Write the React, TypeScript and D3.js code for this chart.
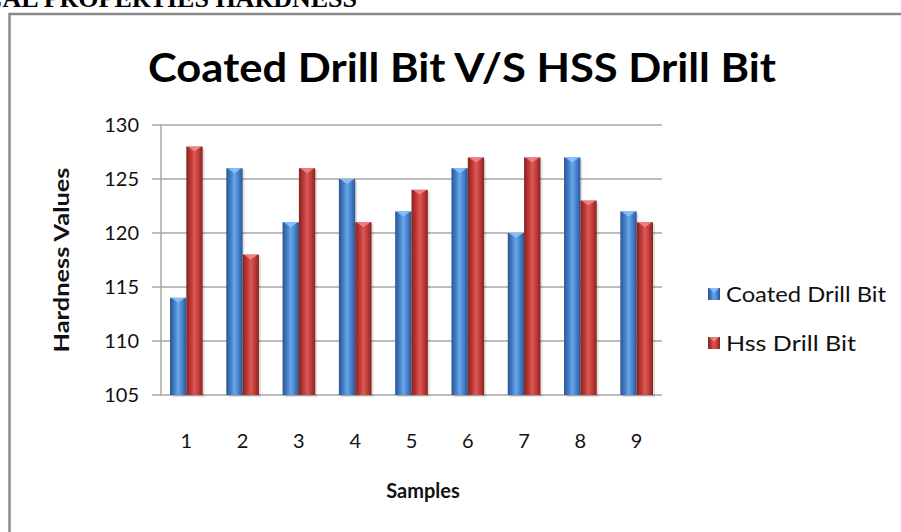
import React from 'react'
import * as d3 from 'd3'

const samples = ['1', '2', '3', '4', '5', '6', '7', '8', '9'];
const coated = [114, 126, 121, 125, 122, 126, 120, 127, 122];
const hss = [128, 118, 126, 121, 124, 127, 127, 123, 121];
const seriesNames = ['Coated Drill Bit', 'Hss Drill Bit'];
const yTicks = [105, 110, 115, 120, 125, 130];

const width = 901;
const height = 532;
const plotLeft = 161;
const plotRight = 662;
const plotTop = 125;
const plotBottom = 395;
const font = 'Lato, "Open Sans", sans-serif';

const xScale = d3.scaleBand<string>()
  .domain(samples)
  .range([plotLeft, plotRight])
  .paddingInner(0.42)
  .paddingOuter(0.16);

const inner = d3.scaleBand<string>()
  .domain(seriesNames)
  .range([0, xScale.bandwidth()]);

const yScale = d3.scaleLinear()
  .domain([105, 130])
  .range([plotBottom, plotTop]);

const palettes = [
  { id: 'gBlue', edge: '#2a5590', mid: '#4682cc', light: '#6aa6e8', cap: '#8cc4ff' },
  { id: 'gRed', edge: '#85221f', mid: '#c03c39', light: '#dc5855', cap: '#f08a88' },
];

const Bar = ({ x, y, w, h, p }) => (
  <g>
    <rect x={x + 2} y={y + 2} width={w} height={h} fill="#000" opacity={0.12} />
    <rect x={x} y={y} width={w} height={h} fill={`url(#${p.id})`} />
    <path
      d={`M${x + 1},${y} L${x + w - 1},${y} L${x + w / 2},${y + 5} Z`}
      fill={p.cap}
      opacity={0.85}
    />
  </g>
);

const App = () => {
  const series = [coated, hss];
  return (
    <svg
      width={width}
      height={height}
      style={{ position: 'absolute', left: 0, top: 0, background: '#fff' }}
    >
      <defs>
        {palettes.map(p => (
          <linearGradient key={p.id} id={p.id} x1="0" x2="1" y1="0" y2="0">
            <stop offset="0%" stopColor={p.edge} />
            <stop offset="30%" stopColor={p.mid} />
            <stop offset="50%" stopColor={p.light} />
            <stop offset="75%" stopColor={p.mid} />
            <stop offset="100%" stopColor={p.edge} />
          </linearGradient>
        ))}
      </defs>

      <text
        x={357}
        y={7}
        textAnchor="end"
        fontFamily='"Liberation Serif", serif'
        fontWeight="bold"
        fontSize={26}
      >
        MECHANICAL PROPERTIES HARDNESS
      </text>

      <path
        d={`M9.5,${height} L9.5,14 L${width},14`}
        fill="none"
        stroke="#8a8a8a"
        strokeWidth={2.5}
      />

      <text
        x={462}
        y={82}
        textAnchor="middle"
        fontFamily={font}
        fontWeight="bold"
        fontSize={40}
        textLength={628}
        lengthAdjust="spacingAndGlyphs"
        fill="#000"
      >
        Coated Drill Bit V/S HSS Drill Bit
      </text>

      {yTicks.map(t => (
        <g key={t}>
          <line
            x1={plotLeft - 9}
            x2={plotRight}
            y1={yScale(t)}
            y2={yScale(t)}
            stroke="#a6a6a6"
            strokeWidth={1.5}
          />
          <text
            x={139}
            y={yScale(t)}
            dy="0.35em"
            textAnchor="end"
            fontFamily={font}
            fontSize={20}
            fill="#111"
          >
            {t}
          </text>
        </g>
      ))}
      <line
        x1={plotLeft}
        x2={plotLeft}
        y1={plotTop}
        y2={plotBottom}
        stroke="#a6a6a6"
        strokeWidth={1.5}
      />

      {samples.map((s, i) => (
        <g key={s}>
          {series.map((vals, j) => {
            const x = xScale(s) + inner(seriesNames[j]);
            const y = yScale(vals[i]);
            return (
              <Bar
                key={j}
                x={x}
                y={y}
                w={inner.bandwidth()}
                h={plotBottom - y}
                p={palettes[j]}
              />
            );
          })}
          <text
            x={xScale(s) + xScale.bandwidth() / 2}
            y={441}
            dy="0.35em"
            textAnchor="middle"
            fontFamily={font}
            fontSize={20}
            fill="#111"
          >
            {s}
          </text>
        </g>
      ))}

      <text
        transform={`translate(62,260) rotate(-90)`}
        textAnchor="middle"
        dy="0.35em"
        fontFamily={font}
        fontWeight="bold"
        fontSize={21}
        textLength={185}
        lengthAdjust="spacingAndGlyphs"
        fill="#111"
      >
        Hardness  Values
      </text>

      <text
        x={423}
        y={491}
        dy="0.35em"
        textAnchor="middle"
        fontFamily={font}
        fontWeight="bold"
        fontSize={20}
        fill="#111"
      >
        Samples
      </text>

      {seriesNames.map((name, j) => (
        <g key={name} transform={`translate(708,${294 + j * 49})`}>
          <rect x={0} y={-6} width={12} height={12} fill={`url(#${palettes[j].id})`} />
          <path d="M1,-6 L11,-6 L6,-1 Z" fill={palettes[j].cap} opacity={0.85} />
          <text
            x={18}
            y={0}
            dy="0.35em"
            fontFamily={font}
            fontSize={22}
            textLength={j === 0 ? 160 : 130}
            lengthAdjust="spacingAndGlyphs"
            fill="#111"
          >
            {name}
          </text>
        </g>
      ))}
    </svg>
  );
};

export default App
